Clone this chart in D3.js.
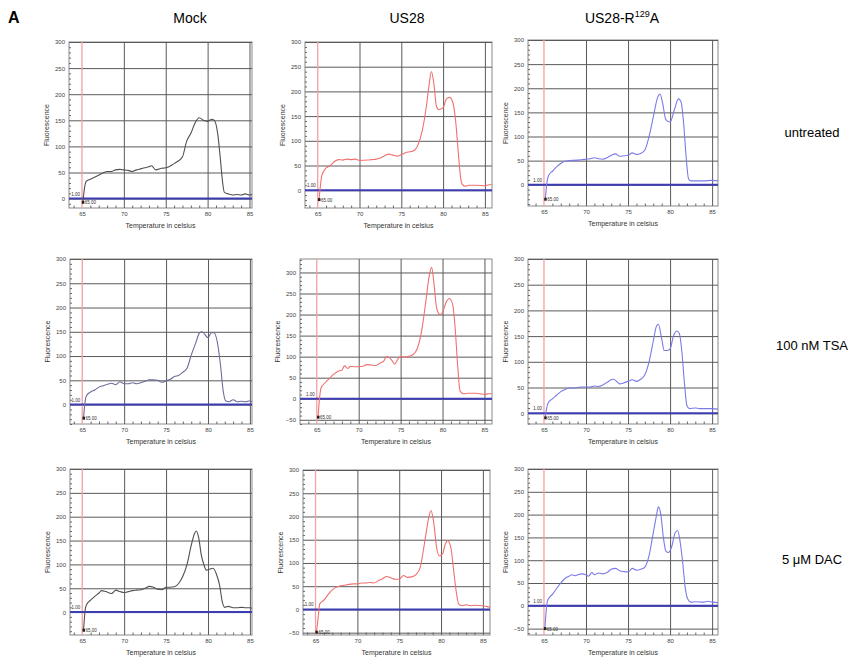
<!DOCTYPE html>
<html>
<head>
<meta charset="utf-8">
<script src="https://cdn.jsdelivr.net/npm/d3@7"></script>
<style>
  body { margin: 0; background: #fff; }
  text { font-family: "Liberation Sans", Arial, sans-serif; }
</style>
</head>
<body>
<svg id="fig" width="862" height="659"></svg>
<script>
// column / row headings
const columns = ["Mock", "US28", "US28-R129A"];
const rows = ["untreated", "100 nM TSA", "5 \u03bcM DAC"];
const xTicks = [65, 70, 75, 80, 85];

// melt curves: [temperature, fluorescence]
const mockUntreated = [[65.1,-8],[65.3,20],[65.5,33],[66,37],[66.5,41],[67,45],[67.5,49],[68,52],[68.5,52],[69,55],[69.5,56],[70,55],[70.5,54],[71,52],[71.5,55],[72,57],[72.5,59],[73,61],[73.3,63],[73.8,55],[74.5,58],[75,59],[75.5,62],[76,67],[76.5,72],[77,80],[77.5,110],[78,125],[78.5,145],[79,155],[79.5,150],[80,148],[80.5,152],[80.8,150],[81.2,125],[81.5,80],[81.8,30],[82,12],[82.5,9],[83,7],[83.5,8],[84,7],[84.5,9],[85,7],[85.3,8]];
const us28Untreated = [[65.15,-20],[65.3,5],[65.5,30],[66,45],[66.5,50],[67,58],[67.5,62],[68,61],[68.5,63],[69,62],[69.5,63],[70,60],[71,61],[71.5,62],[72,63],[72.5,65],[73,70],[73.5,73],[74,71],[74.5,69],[75,72],[75.5,76],[76,78],[76.5,80],[77,92],[77.5,120],[78,170],[78.3,210],[78.6,240],[78.9,215],[79.2,170],[79.5,163],[80,167],[80.4,185],[80.8,188],[81.2,175],[81.5,140],[81.8,80],[82.1,25],[82.3,12],[82.7,8],[83,10],[84,10],[85,9],[85.5,11],[85.85,11]];
const r129aUntreated = [[65.15,-31],[65.35,5],[65.6,21],[66,28],[66.5,37],[67,44],[67.5,49],[68,50],[69,51],[69.5,52],[70,53],[70.5,54],[71,56],[71.5,54],[72,53],[72.5,56],[73,61],[73.5,64],[74,59],[74.5,60],[75,61],[75.5,66],[76,63],[76.5,65],[77,72],[77.5,100],[78,140],[78.5,180],[78.8,188],[79.1,170],[79.5,135],[80,130],[80.5,155],[81,178],[81.3,172],[81.6,130],[81.9,60],[82.2,12],[82.5,8],[83,8],[84,8],[85,9],[85.7,8]];
const mockTsa = [[65.15,-29],[65.3,0],[65.5,18],[66,26],[66.5,30],[67,36],[67.5,39],[68,42],[68.5,44],[69,41],[69.5,47],[70,43],[70.5,43],[71,45],[71.5,43],[72,45],[72.5,48],[73,51],[73.5,51],[74,50],[74.5,46],[75,49],[75.5,52],[76,58],[76.5,60],[77,67],[77.5,75],[78,102],[78.5,125],[79,148],[79.3,150],[79.6,145],[80,138],[80.4,148],[80.7,148],[81.1,130],[81.5,80],[81.8,30],[82.1,8],[82.5,6],[83,10],[83.5,6],[84,7],[84.5,6],[85,8],[85.25,6]];
const us28Tsa = [[65.15,-45],[65.3,-5],[65.5,25],[66,38],[66.5,48],[67,58],[67.5,65],[68,68],[68.3,78],[68.7,72],[69,77],[69.5,76],[70,76],[70.5,77],[71,81],[71.5,80],[72,79],[72.5,84],[73,90],[73.3,100],[73.7,97],[74,90],[74.3,82],[74.7,95],[75,100],[75.5,99],[76,101],[76.5,105],[77,120],[77.5,160],[78,230],[78.4,290],[78.7,312],[79,270],[79.3,215],[79.7,200],[80,205],[80.4,228],[80.8,238],[81.2,225],[81.5,170],[81.8,80],[82.1,18],[82.5,12],[83,13],[84,13],[84.5,12],[85,10],[85.5,12],[85.9,12]];
const r129aTsa = [[65.15,-10],[65.3,8],[65.5,20],[66,28],[66.5,35],[67,42],[67.5,46],[68,49],[68.5,49],[69,50],[69.5,51],[70,51],[70.5,51],[71,53],[71.5,52],[72,55],[72.5,60],[73,65],[73.3,66],[73.7,61],[74,57],[74.5,59],[75,62],[75.5,65],[76,62],[76.5,66],[77,75],[77.5,100],[78,140],[78.4,170],[78.6,173],[79,145],[79.3,122],[79.7,122],[80,125],[80.4,150],[80.8,160],[81.1,155],[81.4,120],[81.7,60],[82,15],[82.3,9],[83,10],[83.5,9],[84,9],[85,9],[85.7,8]];
const mockDac = [[65.15,-39],[65.4,10],[65.6,18],[66,25],[66.5,33],[67,40],[67.3,45],[67.8,43],[68.5,39],[69,46],[69.5,43],[70,41],[70.5,43],[71,45],[71.5,46],[72,47],[72.5,50],[73,54],[73.5,52],[74,48],[74.5,47],[75,52],[75.5,52],[76,53],[76.5,60],[77,75],[77.5,100],[78,140],[78.4,165],[78.6,170],[78.9,155],[79.2,120],[79.5,100],[79.8,88],[80.2,90],[80.6,92],[81,80],[81.4,55],[81.7,22],[82,10],[82.4,12],[83,9],[83.5,9],[84,10],[84.5,9],[85,9],[85.25,8]];
const us28Dac = [[65.1,-50],[65.3,-20],[65.5,12],[66,20],[66.5,32],[67,42],[67.5,48],[68,51],[68.5,52],[69,54],[69.5,55],[70,55],[70.5,57],[71,57],[71.5,58],[72,57],[72.5,62],[73,66],[73.5,71],[74,68],[74.5,65],[75,65],[75.5,73],[76,69],[76.5,70],[77,75],[77.5,90],[78,140],[78.5,195],[78.8,213],[79.1,190],[79.5,130],[79.8,115],[80.2,120],[80.5,140],[80.8,148],[81.2,130],[81.5,85],[81.8,40],[82.1,12],[82.5,8],[83,10],[83.5,8],[84,9],[85,8],[85.5,6],[85.85,5]];
const r129aDac = [[65.1,-51],[65.4,10],[65.6,17],[66,25],[66.5,38],[67,50],[67.5,60],[68,65],[68.3,68],[68.7,66],[69,68],[69.5,70],[70,68],[70.3,65],[70.7,73],[71,68],[71.5,72],[72,70],[72.5,73],[73,80],[73.5,82],[74,77],[74.5,75],[75,74],[75.5,82],[76,78],[76.5,80],[77,85],[77.5,110],[78,160],[78.4,200],[78.6,217],[78.9,200],[79.2,150],[79.5,120],[79.8,117],[80.2,130],[80.6,160],[80.9,165],[81.2,140],[81.5,95],[81.8,40],[82.1,15],[82.5,8],[83,9],[84,8],[84.5,10],[85,8],[85.7,7]];

// panel layout (pixel boxes and axis domains)
const panels = [
  {d: mockUntreated,  c: "#505050", x0: 69,  x1: 252, y0: 42,  y1: 208, xd: [63.45, 85.3], yd: [-18, 300]},
  {d: us28Untreated,  c: "#f07070", x0: 305, x1: 492, y0: 42,  y1: 208, xd: [63.48, 85.85], yd: [-36, 300]},
  {d: r129aUntreated, c: "#7a7aea", x0: 528, x1: 718, y0: 40,  y1: 206, xd: [63.1, 85.7], yd: [-44, 300]},
  {d: mockTsa,        c: "#6c6c9c", x0: 70,  x1: 252, y0: 259, y1: 424, xd: [63.54, 85.25], yd: [-40, 300]},
  {d: us28Tsa,        c: "#f07070", x0: 300, x1: 492, y0: 259, y1: 424, xd: [63.0, 85.9], yd: [-60, 332]},
  {d: r129aTsa,       c: "#7a7aea", x0: 528, x1: 718, y0: 259, y1: 424, xd: [63.1, 85.7], yd: [-21, 300]},
  {d: mockDac,        c: "#505050", x0: 70,  x1: 252, y0: 469, y1: 635, xd: [63.54, 85.25], yd: [-48, 300]},
  {d: us28Dac,        c: "#f07070", x0: 303, x1: 490, y0: 470, y1: 635, xd: [63.5, 85.85], yd: [-55, 300]},
  {d: r129aDac,       c: "#7a7aea", x0: 528, x1: 718, y0: 469, y1: 635, xd: [63.1, 85.7], yd: [-64, 300]}
];

const svg = d3.select("#fig");

panels.forEach(p => {
  let x = d3.scaleLinear().domain(p.xd).range([p.x0, p.x1]);
  let y = d3.scaleLinear().domain(p.yd).range([p.y1, p.y0]);
  let w = p.x1 - p.x0, h = p.y1 - p.y0;
  let g = svg.append("g");

  let yMajor = d3.range(-50, 301, 50).filter(v => v >= p.yd[0] && v <= p.yd[1]);
  let yMinor = d3.range(-60, 331, 10).filter(v => v >= p.yd[0] && v <= p.yd[1] && v % 50 != 0);
  let xMinor = d3.range(64, 86, 1).filter(v => v >= p.xd[0] && v <= p.xd[1] && v % 5 != 0);

  // frame
  g.append("rect").attr("x", p.x0).attr("y", p.y0).attr("width", w).attr("height", h)
    .attr("fill", "none").attr("stroke", "#8a8a8a").attr("stroke-width", 1);

  // grid + labels
  let ya = g.append("g").attr("transform", `translate(${p.x0},0)`)
    .call(d3.axisLeft(y).tickValues(yMajor).tickSize(-w).tickPadding(4).tickFormat(d3.format("d")));
  let xa = g.append("g").attr("transform", `translate(0,${p.y1})`)
    .call(d3.axisBottom(x).tickValues(xTicks).tickSize(-h).tickPadding(4).tickFormat(d3.format("d")));
  [ya, xa].forEach(a => {
    a.select(".domain").remove();
    a.selectAll("line").attr("stroke", "#5a5a5a").attr("stroke-width", 1);
    a.selectAll("text").attr("font-size", 6).attr("fill", "#444").attr("font-family", "Liberation Sans, Arial, sans-serif");
  });
  // the 65 line is the red marker line, not a grid line
  xa.selectAll(".tick").filter(d => d == 65).select("line").attr("stroke", "none");

  // minor ticks
  g.append("g").attr("transform", `translate(${p.x0},0)`)
    .call(d3.axisLeft(y).tickValues(yMinor).tickSize(-2).tickFormat(""))
    .call(a => a.select(".domain").remove())
    .selectAll("line").attr("stroke", "#666");
  g.append("g").attr("transform", `translate(0,${p.y1})`)
    .call(d3.axisBottom(x).tickValues(xMinor).tickSize(-2.5).tickFormat(""))
    .call(a => a.select(".domain").remove())
    .selectAll("line").attr("stroke", "#666");

  // threshold lines
  g.append("line").attr("x1", x(65)).attr("x2", x(65)).attr("y1", p.y0).attr("y2", p.y1)
    .attr("stroke", "#f6a0a0").attr("stroke-width", 1.3);
  g.append("line").attr("x1", p.x0).attr("x2", p.x1).attr("y1", y(0)).attr("y2", y(0))
    .attr("stroke", "#3c3cb4").attr("stroke-width", 2);

  // curve
  g.append("path").datum(p.d)
    .attr("d", d3.line().x(d => x(d[0])).y(d => y(d[1])).curve(d3.curveMonotoneX))
    .attr("fill", "none").attr("stroke", p.c).attr("stroke-width", 1.1);

  // small annotations
  let dip = p.d[0];
  g.append("text").attr("x", x(65) - 2).attr("y", y(0) - 3).attr("text-anchor", "end")
    .attr("font-size", 4.5).attr("fill", "#333").text("1.00");
  g.append("rect").attr("x", x(dip[0]) - 1).attr("y", y(dip[1]) - 2).attr("width", 2.5).attr("height", 3).attr("fill", "#222");
  g.append("text").attr("x", x(dip[0]) + 2).attr("y", y(dip[1]) + 1.5)
    .attr("font-size", 4.5).attr("fill", "#333").text("65.00");

  // axis titles
  g.append("text").attr("x", (p.x0 + p.x1) / 2).attr("y", p.y1 + 20).attr("text-anchor", "middle")
    .attr("font-size", 7).attr("fill", "#333").text("Temperature in celsius");
  g.append("text").attr("transform", `translate(${p.x0 - 20},${(p.y0 + p.y1) / 2}) rotate(-90)`)
    .attr("text-anchor", "middle").attr("font-size", 7).attr("fill", "#333").text("Fluorescence");
});

// headings
svg.append("text").attr("x", 8).attr("y", 23).attr("font-size", 16).attr("font-weight", "bold").text("A");
const colX = [190, 407, 622];
columns.forEach((c, i) => {
  let t = svg.append("text").attr("x", colX[i]).attr("y", 23).attr("text-anchor", "middle").attr("font-size", 14);
  if (c == "US28-R129A") {
    t.append("tspan").text("US28-R");
    t.append("tspan").attr("font-size", 9).attr("dy", -6).text("129");
    t.append("tspan").attr("dy", 6).text("A");
  } else {
    t.text(c);
  }
});
const rowY = [137, 350, 564];
rows.forEach((r, i) => {
  svg.append("text").attr("x", 812).attr("y", rowY[i]).attr("text-anchor", "middle").attr("font-size", 13).text(r);
});
</script>
</body>
</html>
